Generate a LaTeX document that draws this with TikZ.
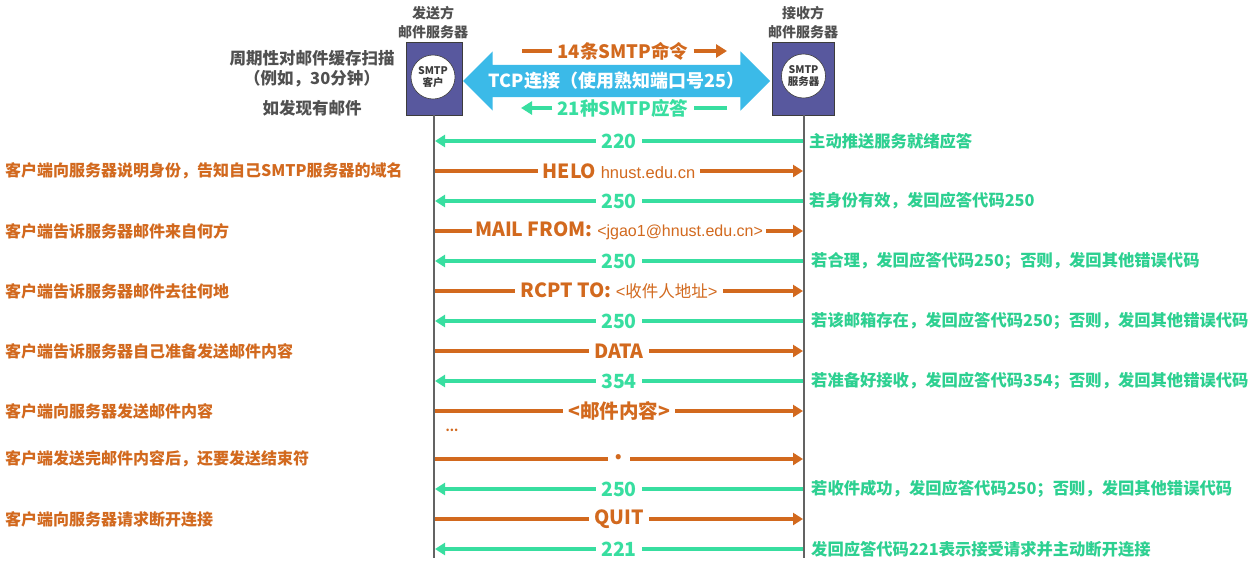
\documentclass[tikz,border=0pt]{standalone}
\usepackage{fontspec}
\setmainfont{Noto Sans CJK SC}
\newfontfamily\arial{Liberation Sans}
\usetikzlibrary{arrows.meta,shapes.arrows}
\definecolor{org}{RGB}{210,105,30}
\definecolor{grn}{RGB}{56,222,160}
\definecolor{grnt}{RGB}{45,208,145}
\definecolor{cyn}{RGB}{59,186,232}
\definecolor{boxc}{RGB}{88,88,158}
\definecolor{dk}{RGB}{60,60,60}
\definecolor{gtxt}{RGB}{80,80,80}
\begin{document}
\begin{tikzpicture}[x=1pt,y=-1pt,
  cmdarrow/.style={draw=org, line width=3.5pt, -{Triangle[length=10pt,width=12pt]}},
  rsparrow/.style={draw=grn, line width=3.5pt, -{Triangle[length=10pt,width=12pt]}},
  clbl/.style={fill=white, text=org, inner xsep=5pt, inner ysep=0pt, font=\bfseries\fontsize{19.5}{19.5}\selectfont},
  rlbl/.style={fill=white, text=grn, inner xsep=5pt, inner ysep=0pt, font=\bfseries\fontsize{19.5}{19.5}\selectfont},
  ltxt/.style={anchor=west, text=org, inner sep=0pt, font=\bfseries\fontsize{16}{16}\selectfont},
  rtxt/.style={anchor=west, text=grnt, inner sep=0pt, font=\bfseries\fontsize{16.3}{16.3}\selectfont},
  lifeline/.style={draw=dk!80, line width=1.8pt},
  srvbox/.style={draw=dk, line width=0.8pt, fill=boxc, minimum height=73pt, inner sep=0pt},
  srvcirc/.style={circle, draw=dk, line width=0.6pt, fill=white, minimum size=44pt, inner sep=0pt, align=center, font=\bfseries\fontsize{10.5}{12.5}\selectfont, text=dk},
  toplbl/.style={text=gtxt, align=center, font=\bfseries\fontsize{14}{19}\selectfont, inner sep=0pt},
  scantxt/.style={text=gtxt, font=\bfseries\fontsize{16.5}{16.5}\selectfont, inner sep=0pt},
  toparrow/.style={line width=4pt, -{Triangle[length=11pt,width=13pt]}},
  topline/.style={line width=4pt}
]
\useasboundingbox (0,0) rectangle (1260,565);
\fill[white] (0,0) rectangle (1260,565);

% servers
\node[toplbl] (slab) at (433,23) {发送方\\邮件服务器};
\node[toplbl] (rlab) at (803,23) {接收方\\邮件服务器};
\node[srvbox, minimum width=56pt] (sbox) at (434,78.5) {};
\node[srvbox, minimum width=62pt] (rbox) at (803,78.5) {};
\node[srvcirc] (scirc) at (433,77) {SMTP\\客户};
\node[srvcirc] (rcirc) at (803.5,76) {SMTP\\服务器};

% scanning notes
\node[scantxt] (scan1) at (312,58) {周期性对邮件缓存扫描};
\node[scantxt] (scan2) at (312,79) {（例如，30分钟）};
\node[scantxt] (scan3) at (312,108) {如发现有邮件};

% TCP connection
\node[double arrow, fill=cyn, minimum height=307pt, double arrow head extend=13.5pt,
      inner xsep=0pt, inner ysep=7pt, text=white,
      font=\bfseries\fontsize{18}{18}\selectfont] (tcp) at (616.5,81) {TCP连接（使用熟知端口号25）};

\node[text=org, inner xsep=5pt, inner ysep=0pt, font=\bfseries\fontsize{18.5}{18.5}\selectfont] (cmds) at (623,51) {14条SMTP命令};
\coordinate (cmdsL) at (522,51);
\coordinate (cmdsR) at (727,51);
\draw[topline, draw=org] (cmdsL) -- (cmds.west);
\draw[toparrow, draw=org] (cmds.east) -- (cmdsR);

\node[text=grn, inner xsep=5pt, inner ysep=0pt, font=\bfseries\fontsize{18.5}{18.5}\selectfont] (rsps) at (623,108) {21种SMTP应答};
\coordinate (rspsL) at (521,108);
\coordinate (rspsR) at (727,108);
\draw[toparrow, draw=grn] (rsps.west) -- (rspsL);
\draw[topline, draw=grn] (rspsR) -- (rsps.east);

% lifelines
\coordinate (send) at (434,558);
\coordinate (recv) at (804,558);
\draw[lifeline] (sbox.south) -- (send);
\draw[lifeline] (rbox.south) ++(1,0) coordinate (rb) (rb) -- (recv);

% row coordinates
\foreach \i/\y in {1/141,2/171,3/201,4/231,5/261,6/291,7/321,8/351,9/381,10/411,11/459,12/489,13/519,14/549}{
  \coordinate (s\i) at (435,\y);
  \coordinate (r\i) at (803,\y);
}

% messages
\draw[rsparrow] (r1) -- node[rlbl]{220} (s1);
\draw[cmdarrow] (s2) -- node[clbl]{HELO {\arial\mdseries\fontsize{16.5}{16.5}\selectfont hnust.edu.cn}} (r2);
\draw[rsparrow] (r3) -- node[rlbl]{250} (s3);
\draw[cmdarrow] (s4) -- node[clbl, inner xsep=3pt]{MAIL FROM: {\arial\mdseries\fontsize{16}{16}\selectfont <jgao1@hnust.edu.cn>}} (r4);
\draw[rsparrow] (r5) -- node[rlbl]{250} (s5);
\draw[cmdarrow] (s6) -- node[clbl]{RCPT TO: {\mdseries\fontsize{16.5}{16.5}\selectfont{\arial <}收件人地址{\arial >}}} (r6);
\draw[rsparrow] (r7) -- node[rlbl]{250} (s7);
\draw[cmdarrow] (s8) -- node[clbl]{DATA} (r8);
\draw[rsparrow] (r9) -- node[rlbl]{354} (s9);
\draw[cmdarrow] (s10) -- node[clbl]{<邮件内容>} (r10);
\node[text=org, inner sep=0pt, font=\bfseries\fontsize{12}{12}\selectfont] (dots) at (452,430) {...};
\draw[cmdarrow] (s11) -- node[clbl, inner xsep=7pt, font=\bfseries\fontsize{24}{24}\selectfont]{\raisebox{4pt}{.}} (r11);
\draw[rsparrow] (r12) -- node[rlbl]{250} (s12);
\draw[cmdarrow] (s13) -- node[clbl]{QUIT} (r13);
\draw[rsparrow] (r14) -- node[rlbl]{221} (s14);

% left explanations
\node[ltxt] (l2) at (5,171) {客户端向服务器说明身份，告知自己SMTP服务器的域名};
\node[ltxt] (l4) at (5,231) {客户端告诉服务器邮件来自何方};
\node[ltxt] (l6) at (5,291) {客户端告诉服务器邮件去往何地};
\node[ltxt] (l8) at (5,351) {客户端告诉服务器自己准备发送邮件内容};
\node[ltxt] (l10) at (5,411) {客户端向服务器发送邮件内容};
\node[ltxt] (l11) at (5,459) {客户端发送完邮件内容后，还要发送结束符};
\node[ltxt] (l13) at (5,519) {客户端向服务器请求断开连接};

% right explanations
\node[rtxt] (t1) at (809,141) {主动推送服务就绪应答};
\node[rtxt] (t3) at (809,201) {若身份有效，发回应答代码250};
\node[rtxt] (t5) at (811,261) {若合理，发回应答代码250；否则，发回其他错误代码};
\node[rtxt] (t7) at (811,321) {若该邮箱存在，发回应答代码250；否则，发回其他错误代码};
\node[rtxt] (t9) at (811,381) {若准备好接收，发回应答代码354；否则，发回其他错误代码};
\node[rtxt] (t12) at (811,489) {若收件成功，发回应答代码250；否则，发回其他错误代码};
\node[rtxt] (t14) at (811,549) {发回应答代码221表示接受请求并主动断开连接};
\end{tikzpicture}
\end{document}
